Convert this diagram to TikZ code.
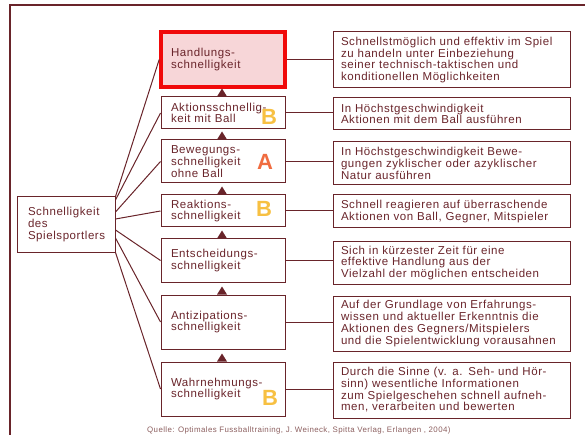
\documentclass[tikz,border=0pt]{standalone}
\usepackage{fontspec}
\setmainfont[LetterSpace=5]{Liberation Sans}
\definecolor{mar}{RGB}{105,36,42}
\definecolor{hred}{RGB}{240,10,10}
\definecolor{hfill}{RGB}{247,214,216}
\definecolor{bcol}{RGB}{247,192,66}
\definecolor{acol}{RGB}{240,108,64}
\definecolor{srccol}{RGB}{140,95,95}
\begin{document}
\begin{tikzpicture}[x=1pt,y=-1pt,
  txt/.style={font=\fontsize{11.5}{11.7}\selectfont, text=mar},
  mbox/.style={draw=mar, line width=1pt, txt, align=left, text width=104pt, inner xsep=10pt, inner ysep=0pt},
  hbox/.style={mbox, draw=hred, line width=3.6pt, fill=hfill},
  dbox/.style={draw=mar, line width=1pt, txt, align=left, text width=221pt, inner xsep=8pt, inner ysep=0pt},
  lbox/.style={draw=mar, line width=1pt, txt, align=left, text width=76pt, inner xsep=11pt, inner ysep=0pt},
  conn/.style={draw=mar, line width=1pt},
  tri/.style={fill=mar},
  letB/.style={font=\fontsize{22}{22}\selectfont\bfseries, text=bcol},
  letA/.style={font=\fontsize{22}{22}\selectfont\bfseries, text=acol}
]
\useasboundingbox (0,0) rectangle (585,435);
% frame
\draw[mar, line width=1.8pt] (585,5) -- (10,5) -- (10,435);

% left box
\node[lbox, minimum height=55pt] (L) at (66,224.5) {Schnelligkeit\\des\\Spielsportlers};

% main column
\node[hbox, minimum height=55pt] (H) at (223,59.5) {Handlungs-\\schnelligkeit\\[-6pt]};
\node[mbox, minimum height=32pt] (A) at (223,113) {Aktionsschnellig-\\keit mit Ball};
\node[mbox, minimum height=43pt] (Bw) at (223,161.5) {Bewegungs-\\schnelligkeit\\ohne Ball};
\node[mbox, minimum height=32pt] (R) at (223,211) {Reaktions-\\schnelligkeit};
\node[mbox, minimum height=43pt] (E) at (223,260.5) {Entscheidungs-\\schnelligkeit};
\node[mbox, minimum height=54pt] (Az) at (223,322) {Antizipations-\\schnelligkeit\\[-5pt]};
\node[mbox, minimum height=54pt] (W) at (223,389) {Wahrnehmungs-\\schnelligkeit\\[-3pt]};

% description column
\node[dbox, minimum height=56pt] (D1) at (451.5,60) {Schnellstmöglich und effektiv im Spiel\\zu handeln unter Einbeziehung\\seiner technisch-taktischen und\\konditionellen Möglichkeiten};
\node[dbox, minimum height=32pt] (D2) at (451.5,114) {In Höchstgeschwindigkeit\\Aktionen mit dem Ball ausführen};
\node[dbox, minimum height=43pt] (D3) at (451.5,163.5) {In Höchstgeschwindigkeit Bewe-\\gungen zyklischer oder azyklischer\\Natur ausführen};
\node[dbox, minimum height=33pt] (D4) at (451.5,211.5) {Schnell reagieren auf überraschende\\Aktionen von Ball, Gegner, Mitspieler};
\node[dbox, minimum height=42pt] (D5) at (451.5,263) {Sich in kürzester Zeit für eine\\effektive Handlung aus der\\Vielzahl der möglichen entscheiden};
\node[dbox, minimum height=55pt] (D6) at (451.5,323.5) {Auf der Grundlage von Erfahrungs-\\wissen und aktueller Erkenntnis die\\Aktionen des Gegners/Mitspielers\\und die Spielentwicklung vorausahnen};
\node[dbox, minimum height=56pt] (D7) at (451.5,390) {Durch die Sinne (v. a. Seh- und Hör-\\sinn) wesentliche Informationen\\zum Spielgeschehen schnell aufneh-\\men, verarbeiten und bewerten};

% letters
\node[letB] (bA) at (269,117) {B};
\node[letA] (aBw) at (265,162) {A};
\node[letB] (bR) at (264,209) {B};
\node[letB] (bW) at (270,398) {B};

% source
\node[font=\fontsize{7.9}{8}\selectfont, text=srccol, anchor=west, inner sep=0pt] (Q) at (147,430) {Quelle: Optimales Fussballtraining, J. Weineck, Spitta Verlag, Erlangen , 2004)};

% fan connectors
\draw[conn] (L.north east) -- (H.west);
\draw[conn] ([yshift=24.5pt]L.east) -- (A.west);
\draw[conn] ([yshift=12.5pt]L.east) -- (Bw.west);
\draw[conn] ([yshift=5.5pt]L.east) -- (R.west);
\draw[conn] ([yshift=-5.5pt]L.east) -- (E.west);
\draw[conn] ([yshift=-13.5pt]L.east) -- (Az.west);
\draw[conn] (L.south east) -- (W.west);

% horizontal connectors
\foreach \m/\d in {H/D1,A/D2,Bw/D3,R/D4,E/D5,Az/D6,W/D7}
  \draw[conn] (\m.east) -- (\m.east -| \d.west);

% triangles
\foreach \n in {A,Bw,R,E,Az,W}
  \fill[tri] ([xshift=-6pt]\n.north) -- ([xshift=4pt]\n.north) -- ([xshift=-1pt,yshift=8pt]\n.north) -- cycle;
\end{tikzpicture}
\end{document}
